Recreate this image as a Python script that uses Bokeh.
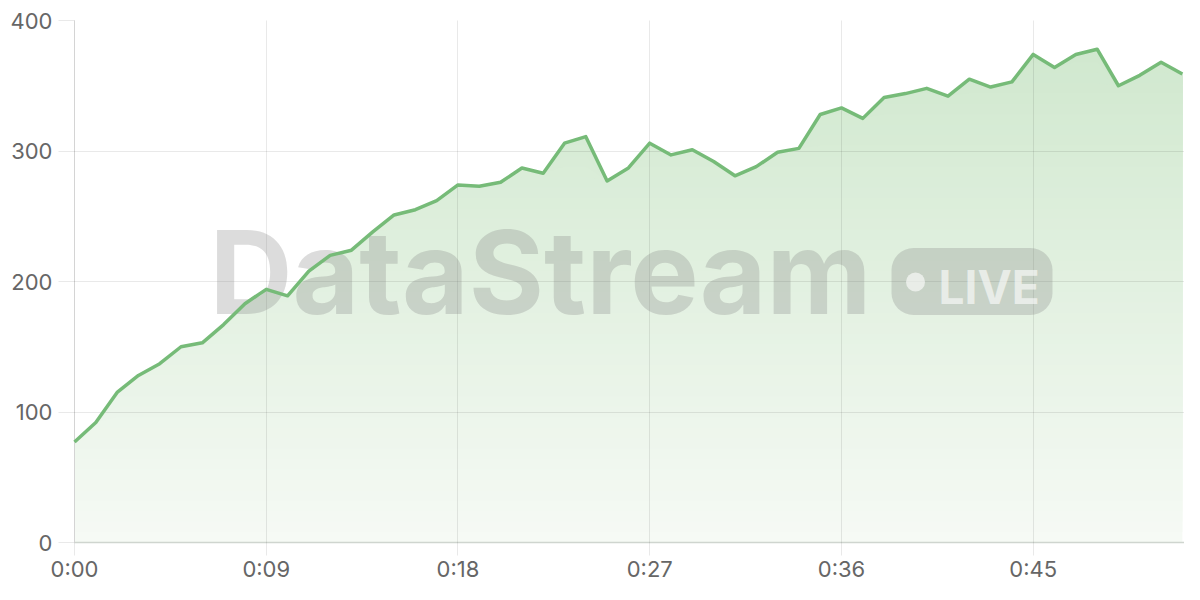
from bokeh.plotting import figure
from bokeh.models import Range1d, FixedTicker, Label, BoxAnnotation
from bokeh.embed import file_html
from bokeh.resources import INLINE

# ---- data ----
seconds = list(range(53))
values = [77, 92, 115, 128, 137, 150, 153, 167, 183, 194,
          189, 208, 220, 224, 238, 251, 255, 262, 274, 273,
          276, 287, 283, 306, 311, 277, 287, 306, 297, 301,
          292, 281, 288, 299, 302, 328, 333, 325, 341, 344,
          348, 342, 355, 349, 353, 374, 364, 374, 378, 350,
          358, 368, 359]
x_ticks = [0, 9, 18, 27, 36, 45]
x_tick_labels = ["0:00", "0:09", "0:18", "0:27", "0:36", "0:45"]
y_ticks = [0, 100, 200, 300, 400]

Y_MAX = 400
X_MAX = 52.1
W, H = 1184, 584
LEFT, TOP, BOTTOM = 74, 20, 41

p = figure(width=W, height=H, output_backend="svg", toolbar_location=None,
           x_range=Range1d(0, X_MAX), y_range=Range1d(0, Y_MAX),
           min_border_left=LEFT, min_border_right=0, min_border_top=TOP,
           min_border_bottom=BOTTOM)
p.outline_line_color = None
p.background_fill_color = "white"
p.border_fill_color = "white"

# ---- gradient area: overlapping opaque bands, bottom to top ----
c_bot = (246, 250, 245)
c_top = (206, 231, 204)
n_bands = 50
for k in range(n_bands):
    lo = Y_MAX * k / n_bands
    t = (k + 0.5) / n_bands
    col = "#%02x%02x%02x" % tuple(int(round(a + (b - a) * t)) for a, b in zip(c_bot, c_top))
    y1 = [min(v, lo) for v in values]
    p.varea(x=seconds, y1=y1, y2=values, fill_color=col)

# ---- watermark ----
fw = W - LEFT
fh = H - TOP - BOTTOM
BASE_FIX = 0.355  # svg alphabetic baseline correction (em)

def px_x(px):
    return (px - LEFT) / (fw / X_MAX)

def px_y(py):
    return (TOP + fh - py) / (fh / Y_MAX)

wm_color = "#808080"
wm_alpha = 0.28
ds_size = 115
p.add_layout(Label(x=px_x(209), y=px_y(313 - BASE_FIX * ds_size), text="DataStream",
                   text_font="Inter", text_font_style="bold", text_font_size=f"{ds_size}px",
                   text_color=wm_color, text_alpha=wm_alpha, text_baseline="alphabetic",
                   text_align="left"))
p.add_layout(BoxAnnotation(left=px_x(891), right=px_x(1052), top=px_y(248), bottom=px_y(315),
                           fill_color=wm_color, fill_alpha=wm_alpha, line_color=None,
                           border_radius=22))
dot = p.scatter(x=[px_x(915)], y=[px_y(282)], size=19, fill_color="white", fill_alpha=0.6,
                line_color=None)
dot.level = "overlay"
live_size = 46
p.add_layout(Label(x=px_x(938), y=px_y(303 - BASE_FIX * live_size), text="LIVE",
                   text_font="Inter", text_font_style="bold", text_font_size=f"{live_size}px",
                   text_color="white", text_alpha=0.6, text_baseline="alphabetic",
                   text_align="left"))

# ---- line ----
ln = p.line(seconds, values, line_color="#76bb78", line_width=3.5, line_join="round")
ln.level = "overlay"

# ---- axes & grid ----
p.xaxis.ticker = FixedTicker(ticks=x_ticks)
p.xgrid.ticker = FixedTicker(ticks=x_ticks)
p.xaxis.major_label_overrides = {t: lab for t, lab in zip(x_ticks, x_tick_labels)}
p.yaxis.ticker = FixedTicker(ticks=y_ticks)
p.ygrid.ticker = FixedTicker(ticks=y_ticks)
for g in (p.xgrid, p.ygrid):
    g.grid_line_color = "black"
    g.grid_line_alpha = 0.085
    g.level = "guide"

for ax in (p.xaxis, p.yaxis):
    ax.minor_tick_line_color = None
    ax.major_tick_line_color = "black"
    ax.major_tick_line_alpha = 0.085
    ax.major_tick_in = 0
    ax.major_label_text_font = "Inter"
    ax.major_label_text_font_size = "22px"
    ax.major_label_text_color = "#666666"

p.xaxis.axis_line_color = "#cfd5cf"
p.xaxis.axis_line_width = 1.5
p.xaxis.major_tick_out = 13
p.xaxis.major_label_standoff = 0
p.yaxis.axis_line_color = "#d4d4d4"
p.yaxis.major_tick_out = 16
p.yaxis.major_label_standoff = 6

open("out.html", "w").write(file_html(p, INLINE))
